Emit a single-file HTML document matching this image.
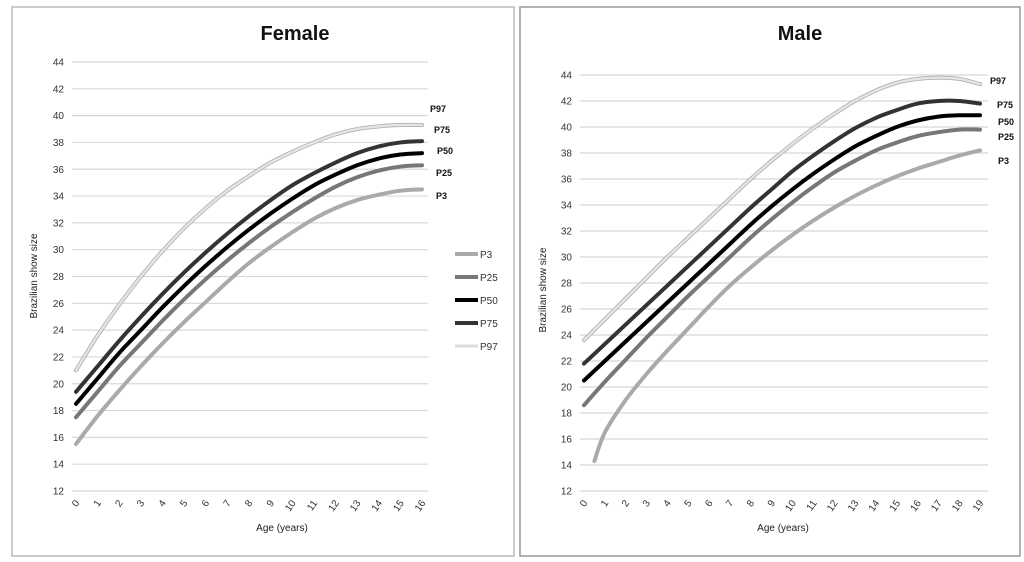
<!DOCTYPE html>
<html><head><meta charset="utf-8"><style>
html,body{margin:0;padding:0;background:#fff;}
svg{display:block;font-family:"Liberation Sans",sans-serif;}
</style></head><body>
<svg id="s" width="1024" height="562" viewBox="0 0 1024 562" xmlns="http://www.w3.org/2000/svg">
<rect x="12" y="7" width="502" height="549" fill="#fff" stroke="#bbb" stroke-width="1.5"/>
<rect x="520" y="7" width="500" height="549" fill="#fff" stroke="#999" stroke-width="1.5"/>
<text x="295" y="40" font-size="20" font-weight="bold" text-anchor="middle" fill="#111">Female</text>
<text x="800" y="40" font-size="20" font-weight="bold" text-anchor="middle" fill="#111">Male</text>
<text transform="translate(37,276) rotate(-90)" font-size="10" text-anchor="middle" fill="#222">Brazilian show size</text>
<text transform="translate(546,290) rotate(-90)" font-size="10" text-anchor="middle" fill="#222">Brazilian show size</text>
<text x="282" y="531" font-size="10" text-anchor="middle" fill="#222">Age (years)</text>
<text x="783" y="531" font-size="10" text-anchor="middle" fill="#222">Age (years)</text>
<g id="g"></g>
<g font-size="10" fill="#333">
<line x1="455" y1="254" x2="478" y2="254" stroke="#aaa" stroke-width="4"/><text x="480" y="258">P3</text>
<line x1="455" y1="277" x2="478" y2="277" stroke="#777" stroke-width="4"/><text x="480" y="281">P25</text>
<line x1="455" y1="300" x2="478" y2="300" stroke="#000" stroke-width="4"/><text x="480" y="304">P50</text>
<line x1="455" y1="323" x2="478" y2="323" stroke="#333" stroke-width="4"/><text x="480" y="327">P75</text>
<line x1="455" y1="346" x2="478" y2="346" stroke="#ddd" stroke-width="3"/><text x="480" y="350">P97</text>
</g>
<g font-size="9" font-weight="bold" fill="#111">
<text x="430" y="112">P97</text><text x="434" y="133">P75</text><text x="437" y="154">P50</text><text x="436" y="176">P25</text><text x="436" y="199">P3</text>
<text x="990" y="84">P97</text><text x="997" y="108">P75</text><text x="998" y="125">P50</text><text x="998" y="140">P25</text><text x="998" y="164">P3</text>
</g>
</svg>
<script>
var g=document.getElementById('g'),NS='http://www.w3.org/2000/svg';
function el(t,a,txt){var e=document.createElementNS(NS,t);for(var k in a)e.setAttribute(k,a[k]);if(txt!=null)e.textContent=txt;g.appendChild(e);return e;}
function panel(P){
 var yv=function(v){return P.y12-(v-12)*(P.y12-P.y44)/32;};
 var xv=function(a){return P.x0+a*(P.xN-P.x0)/P.n;};
 for(var v=12;v<=44;v+=2){var y=yv(v);el('line',{x1:P.gl,x2:P.gr,y1:y,y2:y,stroke:'#d8d8d8','stroke-width':1.2});
  el('text',{x:P.gl-8,y:y+3.5,'font-size':10,'text-anchor':'end',fill:'#333'},v);}
 for(var a=0;a<=P.n;a++){var x=xv(a);el('text',{x:0,y:0,'font-size':10,'text-anchor':'end',fill:'#333',transform:'translate('+(x+4)+','+(P.y12+12)+') rotate(-55)'},a);}
 P.series.forEach(function(s){
  var pts=s.d.map(function(p){return [xv(p[0]),yv(p[1])];});
  var d='M'+pts[0][0]+','+pts[0][1];
  for(var i=0;i<pts.length-1;i++){var p0=pts[Math.max(0,i-1)],p1=pts[i],p2=pts[i+1],p3=pts[Math.min(pts.length-1,i+2)];
   d+=' C'+(p1[0]+(p2[0]-p0[0])/6)+','+(p1[1]+(p2[1]-p0[1])/6)+' '+(p2[0]-(p3[0]-p1[0])/6)+','+(p2[1]-(p3[1]-p1[1])/6)+' '+p2[0]+','+p2[1];}
  if(s.edge)el('path',{d:d,fill:'none',stroke:s.edge,'stroke-width':s.w+1.5,'stroke-linecap':'round'});
  el('path',{d:d,fill:'none',stroke:s.c,'stroke-width':s.w,'stroke-linecap':'round'});
 });
}
function idx(arr){return arr.map(function(v,i){return [i,v];});}
panel({x0:76,xN:422,n:16,y12:491,y44:62,gl:72,gr:428,series:[
 {c:'#aaa',w:4,d:idx([15.5,17.6,19.5,21.3,23,24.6,26.1,27.6,29,30.2,31.3,32.3,33.1,33.7,34.1,34.4,34.5])},
 {c:'#777',w:4,d:idx([17.5,19.4,21.3,23,24.7,26.3,27.8,29.2,30.5,31.7,32.8,33.8,34.7,35.4,35.9,36.2,36.3])},
 {c:'#000',w:4,d:idx([18.5,20.4,22.3,24,25.7,27.3,28.8,30.2,31.5,32.7,33.8,34.8,35.6,36.3,36.8,37.1,37.2])},
 {c:'#333',w:4,d:idx([19.4,21.3,23.2,25,26.7,28.3,29.8,31.2,32.5,33.7,34.8,35.7,36.5,37.2,37.7,38,38.1])},
 {c:'#e4e4e4',w:2.5,edge:'#aaa',d:idx([21,23.6,25.9,28,29.9,31.6,33.1,34.4,35.5,36.5,37.3,38,38.6,39,39.2,39.3,39.3])}
]});
panel({x0:584,xN:980,n:19,y12:491,y44:75,gl:580,gr:988,series:[
 {c:'#aaa',w:4,d:[[0.5,14.3],[1,16.5],[2,19],[3,21],[4,22.8],[5,24.5],[6,26.2],[7,27.8],[8,29.2],[9,30.5],[10,31.7],[11,32.8],[12,33.8],[13,34.7],[14,35.5],[15,36.2],[16,36.8],[17,37.3],[18,37.8],[19,38.2]]},
 {c:'#777',w:4,d:idx([18.6,20.4,22.1,23.8,25.4,27,28.5,30,31.5,32.9,34.2,35.4,36.5,37.4,38.2,38.8,39.3,39.6,39.8,39.8])},
 {c:'#000',w:4,d:idx([20.5,22,23.5,25,26.5,28,29.5,31,32.5,33.9,35.2,36.4,37.5,38.5,39.3,40,40.5,40.8,40.9,40.9])},
 {c:'#333',w:4,d:idx([21.8,23.3,24.8,26.3,27.8,29.3,30.8,32.3,33.8,35.2,36.6,37.8,38.9,39.9,40.7,41.3,41.8,42,42,41.8])},
 {c:'#e4e4e4',w:2.5,edge:'#aaa',d:idx([23.6,25.2,26.8,28.4,30,31.5,33,34.5,36,37.4,38.7,39.9,41,42,42.8,43.4,43.7,43.8,43.7,43.3])}
]});
</script>
</body></html>
